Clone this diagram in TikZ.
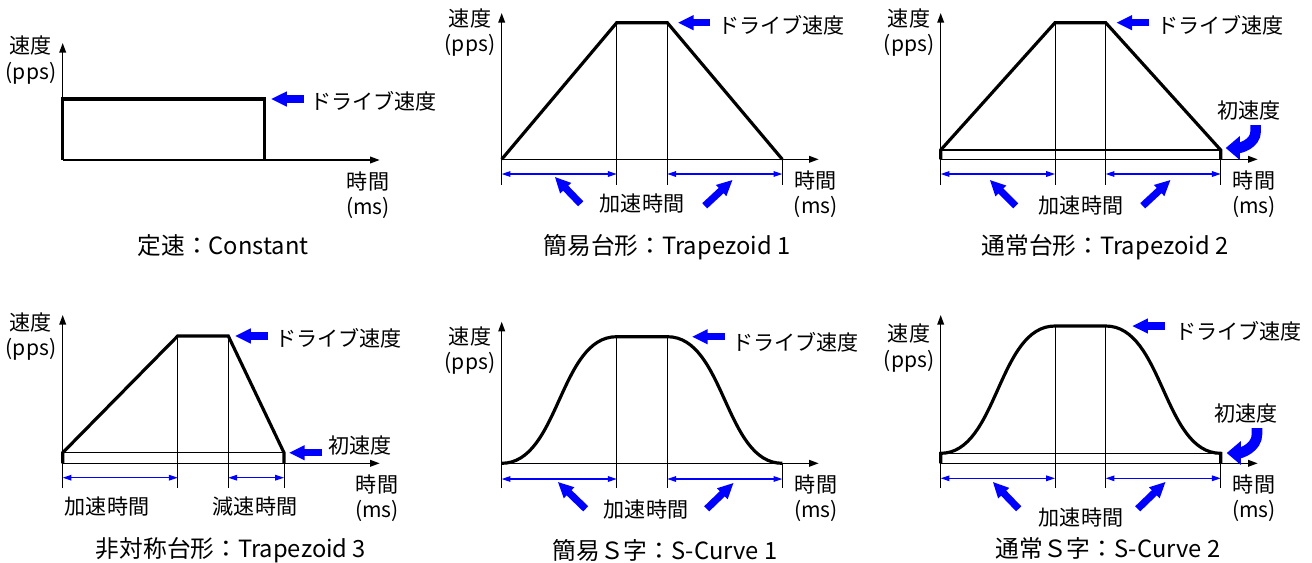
\documentclass[tikz,border=0pt]{standalone}
\usepackage{fontspec}
\setmainfont{Noto Sans CJK JP}
\usepackage{tikz}
\usetikzlibrary{positioning, calc, arrows.meta}
\tikzset{
    axis line/.style={line width=0.85pt, -{Triangle[length=5.5pt, width=3.8pt]}},
    base line/.style={line width=0.8pt},
    guide line/.style={line width=0.55pt},
    profile line/.style={line width=1.8pt},
    span arrow/.style={blue, line width=0.6pt, {Triangle[length=5pt, width=3.2pt]}-{Triangle[length=5pt, width=3.2pt]}},
    pointer arrow/.style={blue, line width=4.1pt, -{Triangle[length=9pt, width=8pt]}},
    bent pointer/.style={blue, line width=6pt, -{Triangle[length=8pt, width=13pt]}},
    axis label/.style={font=\fontsize{12}{14.5}\selectfont, align=center, inner sep=0pt},
    caption label/.style={font=\fontsize{13.5}{16}\selectfont, inner sep=0pt},
}
\newcommand{\drawaxes}[4]{
    \coordinate (o) at (0,0);
    \coordinate (low) at (0,#2);
    \draw[axis line] (low) -- (0,#1);
    \draw[axis line] (o) -- (317,0);
    \node[axis label] (spd) at (-31.7,#3) {速度\\(pps)};
    \node[axis label] (tim) at (#4,35) {時間\\(ms)};
}

\begin{document}
\begin{tikzpicture}[x=0.02cm, y=-0.02cm]
    \useasboundingbox (0,0) rectangle (1312,562);

    \begin{scope}[shift={(62.7,160)}]
        \drawaxes{-117}{0}{-100}{305.3}
        \coordinate (a) at (0,-61);
        \coordinate (b) at (202,-61);
        \draw[profile line] (o) -- (a) -- (b) -- (b |- o);
        \node[axis label, anchor=west] (drv) at (247,-59) {ドライブ速度};
        \draw[pointer arrow, shorten <=3.4pt, shorten >=3.6pt] (b -| drv.west) -- (b);
        \node[caption label] (cap) at (160.3,86) {定速：Constant};
    \end{scope}

    \begin{scope}[shift={(501.7,159.3)}]
        \drawaxes{-146.3}{25.7}{-126.8}{314}
        \coordinate (a) at (0,0);
        \coordinate (b) at (115,-136.6);
        \coordinate (c) at (165.6,-136.6);
        \coordinate (d) at (280.6,0);
        \coordinate (dim) at (0,14.7);
        \draw[guide line] (b) -- (b |- low) (c) -- (c |- low) (d) -- (d |- low);
        \draw[profile line] (a) -- (b) -- (c) -- (d);
        \draw[span arrow] (a |- dim) -- (b |- dim);
        \draw[span arrow] (c |- dim) -- (d |- dim);
        \node[axis label] (acc) at (140.3,43.7) {加速時間};
        \coordinate (al) at (79,44.5);
        \coordinate (ar) at (203,46.5);
        \draw[pointer arrow] (al) -- ++(-26,-27);
        \draw[pointer arrow] (ar) -- ++(28,-26);
        \node[axis label, anchor=west] (drv) at (216.3,-134.3) {ドライブ速度};
        \draw[pointer arrow, shorten <=4.5pt, shorten >=6pt] (c -| drv.west) -- (c);
        \node[caption label] (cap) at (165.3,87.7) {簡易台形：Trapezoid 1};
    \end{scope}

    \begin{scope}[shift={(940.7,159.3)}]
        \drawaxes{-146.3}{25.7}{-126.8}{313.3}
        \coordinate (a) at (0,-9.3);
        \coordinate (b) at (114.3,-136.6);
        \coordinate (c) at (165,-136.6);
        \coordinate (d) at (280,-9.3);
        \coordinate (dim) at (0,14.7);
        \draw[guide line] (b) -- (b |- low) (c) -- (c |- low) (d |- o) -- (d |- low);
        \draw[base line] (a) -- (d);
        \draw[profile line] (o) -- (a) -- (b) -- (c) -- (d) -- (d |- o);
        \draw[span arrow] (o |- dim) -- (b |- dim);
        \draw[span arrow] (c |- dim) -- (d |- dim);
        \node[axis label] (acc) at (140.3,45.7) {加速時間};
        \coordinate (al) at (75,46.5);
        \coordinate (ar) at (202,46.5);
        \draw[pointer arrow] (al) -- ++(-26,-26);
        \draw[pointer arrow] (ar) -- ++(28,-26);
        \node[axis label, anchor=west] (drv) at (216.3,-134.3) {ドライブ速度};
        \draw[pointer arrow, shorten <=4.5pt, shorten >=6pt] (c -| drv.west) -- (c);
        \node[axis label] (ini) at (308.3,-48.3) {初速度};
        \coordinate (k) at (315,-34.3);
        \coordinate (kt) at (285,-11.3);
        \draw[bent pointer] (k) -- ++(0,6) to[out=-90, in=0] (kt);
        \node[caption label] (cap) at (164.3,87.7) {通常台形：Trapezoid 2};
    \end{scope}

    \begin{scope}[shift={(62.7,463.3)}]
        \drawaxes{-148.3}{25}{-126.5}{314.3}
        \coordinate (a) at (0,-10.6);
        \coordinate (b) at (115,-127.3);
        \coordinate (c) at (165.6,-127.3);
        \coordinate (d) at (221.3,-10.6);
        \coordinate (dim) at (0,14.4);
        \draw[guide line] (b) -- (b |- low) (c) -- (c |- low) (d |- o) -- (d |- low);
        \draw[base line] (a) -- (d);
        \draw[profile line] (o) -- (a) -- (b) -- (c) -- (d) -- (d |- o);
        \draw[span arrow] (o |- dim) -- (b |- dim);
        \draw[span arrow] (c |- dim) -- (d |- dim);
        \node[axis label] (acc) at (44.3,42.7) {加速時間};
        \node[axis label] (dec) at (192.3,42.7) {減速時間};
        \node[axis label, anchor=west] (drv) at (212.3,-125.3) {ドライブ速度};
        \draw[pointer arrow, shorten <=4pt, shorten >=3.8pt] (c -| drv.west) -- (c);
        \node[axis label, anchor=west] (ini) at (265.3,-18.3) {初速度};
        \draw[pointer arrow, shorten <=3.4pt, shorten >=2.8pt] (d -| ini.west) -- (d);
        \node[caption label] (cap) at (168.3,86.7) {非対称台形：Trapezoid 3};
    \end{scope}

    \begin{scope}[shift={(501.7,463.3)}]
        \drawaxes{-141.6}{25}{-112.8}{314.3}
        \coordinate (a) at (0,0);
        \coordinate (b) at (115,-126.6);
        \coordinate (c) at (165.6,-126.6);
        \coordinate (d) at (280.6,0);
        \coordinate (dim) at (0,15.7);
        \draw[guide line] (b) -- (b |- low) (c) -- (c |- low) (d) -- (d |- low);
        \draw[profile line] (a) .. controls (57.5,0) and (57.5,-126.6) .. (b) -- (c) .. controls (223.1,-126.6) and (223.1,0) .. (d);
        \draw[span arrow] (a |- dim) -- (b |- dim);
        \draw[span arrow] (c |- dim) -- (d |- dim);
        \node[axis label] (acc) at (144.3,45.7) {加速時間};
        \coordinate (al) at (84,45.5);
        \coordinate (ar) at (205,45.5);
        \draw[pointer arrow] (al) -- ++(-28,-27);
        \draw[pointer arrow] (ar) -- ++(27,-26);
        \node[axis label, anchor=west] (drv) at (230.3,-121.3) {ドライブ速度};
        \draw[pointer arrow, shorten <=4pt, shorten >=14pt] (c -| drv.west) -- (c);
        \node[caption label] (cap) at (163.3,86.7) {簡易Ｓ字：S-Curve 1};
    \end{scope}

    \begin{scope}[shift={(940.7,463.3)}]
        \drawaxes{-148.3}{25}{-115.3}{313.3}
        \coordinate (a) at (0,-10);
        \coordinate (b) at (114.3,-137.3);
        \coordinate (c) at (165,-137.3);
        \coordinate (d) at (280,-10);
        \coordinate (dim) at (0,15);
        \draw[guide line] (b) -- (b |- low) (c) -- (c |- low) (d |- o) -- (d |- low);
        \draw[base line] (a) -- (d);
        \draw[profile line] (o) -- (a) .. controls (57,-10) and (57,-137.3) .. (b) -- (c) .. controls (222.5,-137.3) and (222.5,-10) .. (d) -- (d |- o);
        \draw[span arrow] (o |- dim) -- (b |- dim);
        \draw[span arrow] (c |- dim) -- (d |- dim);
        \node[axis label] (acc) at (140.3,53.7) {加速時間};
        \coordinate (al) at (78,45.5);
        \coordinate (ar) at (197,45.5);
        \draw[pointer arrow] (al) -- ++(-26,-27);
        \draw[pointer arrow] (ar) -- ++(28,-27);
        \node[axis label, anchor=west] (drv) at (234.3,-132.3) {ドライブ速度};
        \draw[pointer arrow, shorten <=5.7pt, shorten >=15pt] (c -| drv.west) -- (c);
        \node[axis label] (ini) at (305.3,-50.3) {初速度};
        \coordinate (k) at (316.3,-35.3);
        \coordinate (kt) at (286,-10.3);
        \draw[bent pointer] (k) -- ++(0,6) to[out=-90, in=0] (kt);
        \node[caption label] (cap) at (167.3,84.7) {通常Ｓ字：S-Curve 2};
    \end{scope}
\end{tikzpicture}
\end{document}
